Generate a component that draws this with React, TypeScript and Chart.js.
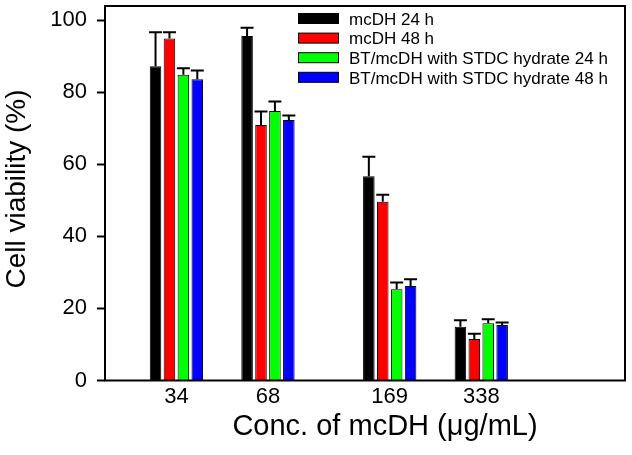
import React, { useEffect, useRef } from "react";
import { Chart, registerables } from "chart.js";

Chart.register(...registerables);

// ---- data ----
const concLabels = ["34", "68", "169", "338"];
const concSlots = [1, 2, 3.33, 4.33];
const seriesNames = [
  "mcDH 24 h",
  "mcDH 48 h",
  "BT/mcDH with STDC hydrate 24 h",
  "BT/mcDH with STDC hydrate 48 h",
];
const mcdh24 = [87.2, 95.6, 56.7, 14.9];
const mcdh24Err = [9.4, 2.3, 5.4, 1.8];
const mcdh48 = [94.9, 70.9, 49.6, 11.5];
const mcdh48Err = [1.7, 3.7, 1.9, 1.5];
const btStdc24 = [84.8, 74.8, 25.3, 15.9];
const btStdc24Err = [1.8, 2.6, 1.9, 1.1];
const btStdc48 = [83.6, 72.3, 26.2, 15.4];
const btStdc48Err = [2.4, 1.2, 1.9, 0.7];
const yTicks = [0, 20, 40, 60, 80, 100];
const xTitle = "Conc. of mcDH (\u03bcg/mL)";
const yTitle = "Cell viability (%)";

const seriesValues = [mcdh24, mcdh48, btStdc24, btStdc48];
const seriesErrors = [mcdh24Err, mcdh48Err, btStdc24Err, btStdc48Err];
const seriesColors = ["#000000", "#ff0000", "#00ff00", "#0000ff"];

const FONT = "'Liberation Sans', Arial, Helvetica, sans-serif";

const errorBarPlugin = {
  id: "errorBars",
  afterDatasetsDraw(chart: any) {
    const ctx = chart.ctx;
    const yScale = chart.scales.y;
    chart.data.datasets.forEach((ds: any, di: number) => {
      const meta = chart.getDatasetMeta(di);
      meta.data.forEach((bar: any, i: number) => {
        const { x, y } = bar.getProps(["x", "y"], true);
        const top = yScale.getPixelForValue(ds.data[i].y + ds.errors[i]);
        ctx.save();
        ctx.strokeStyle = "#000";
        ctx.lineWidth = 2;
        ctx.beginPath();
        ctx.moveTo(x, y);
        ctx.lineTo(x, top);
        ctx.moveTo(x - 6.5, top);
        ctx.lineTo(x + 6.5, top);
        ctx.stroke();
        ctx.restore();
      });
    });
  },
};

const framePlugin = {
  id: "frame",
  afterDatasetsDraw(chart: any) {
    const { ctx, chartArea } = chart;
    ctx.save();
    ctx.strokeStyle = "#000";
    ctx.lineWidth = 2;
    ctx.strokeRect(
      chartArea.left,
      chartArea.top,
      chartArea.right - chartArea.left,
      chartArea.bottom - chartArea.top
    );
    ctx.restore();
  },
};

const legendTitlesPlugin = {
  id: "legendTitles",
  afterDraw(chart: any) {
    const { ctx, chartArea } = chart;
    ctx.save();
    // legend
    const swLeft = chartArea.left + 193.5;
    const swW = 40;
    const swH = 10;
    const rowTop = chartArea.top + 12.5;
    const rowGap = 19.6;
    ctx.font = `17px ${FONT}`;
    ctx.textAlign = "left";
    ctx.textBaseline = "middle";
    chart.data.datasets.forEach((ds: any, i: number) => {
      const cy = rowTop + i * rowGap;
      ctx.fillStyle = ds.backgroundColor;
      ctx.fillRect(swLeft, cy - swH / 2, swW, swH);
      ctx.strokeStyle = "#000";
      ctx.lineWidth = 1;
      ctx.strokeRect(swLeft, cy - swH / 2, swW, swH);
      ctx.fillStyle = "#000";
      ctx.fillText(ds.label, swLeft + swW + 10.5, cy + 1.7);
    });
    // axis titles
    ctx.fillStyle = "#000";
    ctx.font = `29px ${FONT}`;
    ctx.textAlign = "center";
    ctx.textBaseline = "alphabetic";
    ctx.fillText(xTitle, 385, 435);
    ctx.translate(25, 189);
    ctx.rotate(-Math.PI / 2);
    ctx.font = `28px ${FONT}`;
    ctx.fillText(yTitle, 0, 0);
    ctx.restore();
  },
};

export default function App() {
  const canvasRef = useRef<HTMLCanvasElement | null>(null);

  useEffect(() => {
    if (!canvasRef.current) return;
    const datasets = seriesNames.map((name, si) => ({
      label: name,
      data: concSlots.map((x, i) => ({ x, y: seriesValues[si][i] })),
      errors: seriesErrors[si],
      backgroundColor: seriesColors[si],
      borderColor: "#000",
      borderWidth: 1,
      categoryPercentage: 0.608,
      barPercentage: 0.83,
    }));

    const chart = new Chart(canvasRef.current, {
      type: "bar",
      data: { datasets: datasets as any },
      plugins: [errorBarPlugin, framePlugin, legendTitlesPlugin],
      options: {
        animation: false,
        responsive: false,
        layout: { padding: { left: 0, top: 6, right: 7, bottom: 0 } },
        plugins: {
          legend: { display: false },
          tooltip: { enabled: false },
        },
        scales: {
          x: {
            type: "linear",
            min: 0.22,
            max: 5.9,
            offset: false,
            bounds: "data",
            grid: { drawOnChartArea: false, drawTicks: false, offset: false },
            border: { display: false },
            afterBuildTicks: (scale: any) => {
              scale.ticks = concSlots.map((v) => ({ value: v }));
            },
            afterFit: (scale: any) => {
              scale.height = 74.5;
              scale.paddingLeft = 0;
              scale.paddingRight = 0;
            },
            ticks: {
              autoSkip: false,
              maxRotation: 0,
              padding: 3,
              color: "#000",
              font: { size: 22, family: FONT },
              callback: (_v: any, idx: number) => concLabels[idx],
            },
          },
          y: {
            type: "linear",
            min: 0,
            max: 103.9,
            bounds: "data",
            grid: {
              drawOnChartArea: false,
              drawTicks: true,
              tickLength: 8,
              tickWidth: 2,
              tickColor: "#000",
            },
            border: { display: false },
            afterBuildTicks: (scale: any) => {
              scale.ticks = yTicks.map((v) => ({ value: v }));
            },
            afterFit: (scale: any) => {
              scale.width = 105;
              scale.paddingTop = 0;
              scale.paddingBottom = 0;
            },
            ticks: {
              padding: 10,
              color: "#000",
              font: { size: 22, family: FONT },
            },
          },
        },
      } as any,
    });
    return () => chart.destroy();
  }, []);

  return (
    <div style={{ position: "absolute", left: 0, top: 0, width: 632, height: 455, background: "#fff" }}>
      <canvas ref={canvasRef} width={632} height={455} />
    </div>
  );
}
